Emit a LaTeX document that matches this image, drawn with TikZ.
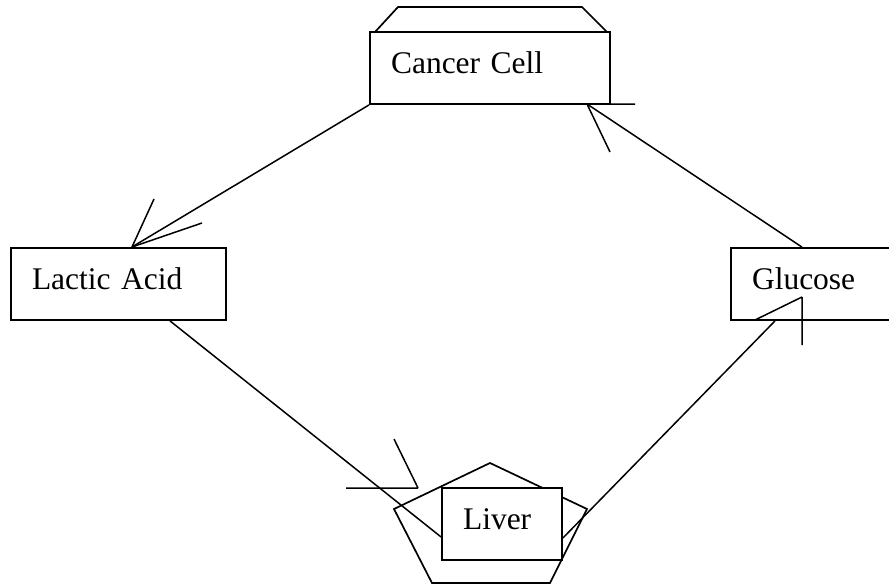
\documentclass[tikz,border=0pt]{standalone}
\usepackage{fontspec}
\setmainfont{Liberation Serif}
\begin{document}
\begin{tikzpicture}[x=1pt,y=-1pt,line join=miter,line width=1.7pt,
  box/.style={draw,line width=1.8pt,inner ysep=0pt,inner xsep=21pt,text height=41pt,text depth=31pt,align=left,
    font=\fontsize{31.5}{36}\selectfont},
  conn/.style={draw,line width=1.5pt}]
\useasboundingbox (0,0) rectangle (889,584);
\clip (0,0) rectangle (889,584);
% trapezoid behind cancer cell
\draw (375,32) -- (398,7) -- (582,7) -- (607,32);
% pentagon around liver
\draw (490,463) -- (587,509) -- (550,583) -- (432,583) -- (394,509) -- cycle;
% boxes
\node[box,text width=198pt] (cancer) at (490,68) {Cancer Cell};
\node[box,text width=173pt] (lactic) at (118.5,284) {Lactic Acid};
\node[box,text width=137pt] (glucose) at (820.5,284) {Glucose};
\node[box,text width=78pt,fill=white] (liver) at (502,524) {Liver};
% arrow tips and barb ends
\coordinate (tipL) at (132,247);
\coordinate (bL1) at (154,199);
\coordinate (bL2) at (202,223);
\coordinate (tipV) at (418,488);
\coordinate (bV1) at (346,488);
\coordinate (bV2) at (394,439);
\coordinate (tipG) at (802,297);
\coordinate (bG1) at (802,345);
\coordinate (bG2) at (755,320);
\coordinate (tipC) at (587,104);
\coordinate (bC1) at (610,152);
\coordinate (bC2) at (635,104);
% connectors
\draw[conn] (cancer.south west) -- (tipL);
\draw[conn] (tipL) -- (bL1) (tipL) -- (bL2);
\draw[conn] ([xshift=51.5pt]lactic.south) -- ([yshift=-13pt]liver.west);
\draw[conn] (tipV) -- (bV1) (tipV) -- (bV2);
\draw[conn] ([yshift=-14pt]liver.east) -- ([xshift=-45.5pt]glucose.south);
\draw[conn] (tipG) -- (bG1) (tipG) -- (bG2);
\draw[conn] ([xshift=-18.5pt]glucose.north) -- (tipC);
\draw[conn] (tipC) -- (bC1) (tipC) -- (bC2);
\end{tikzpicture}
\end{document}
